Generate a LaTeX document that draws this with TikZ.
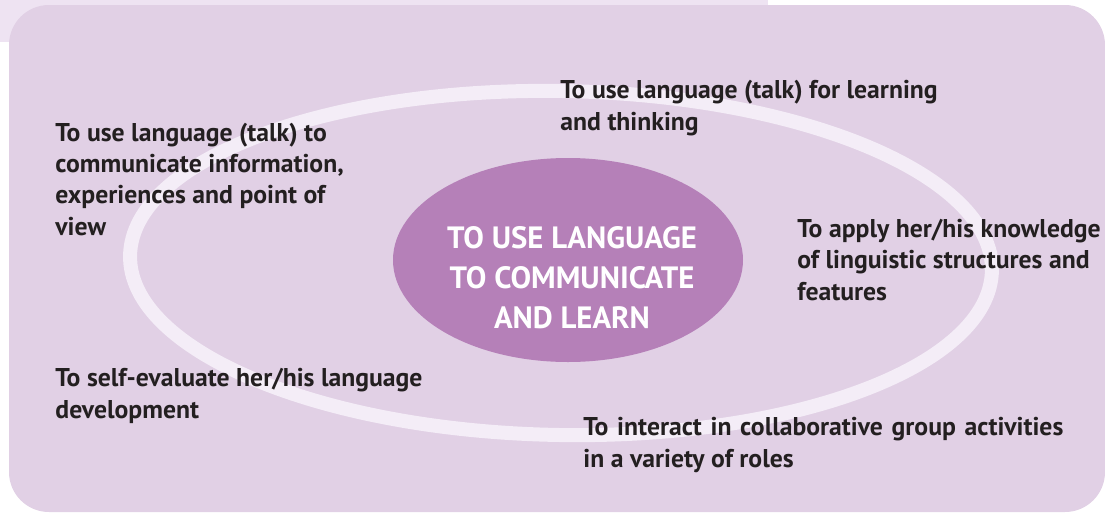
\documentclass[tikz,border=0pt]{standalone}
\usepackage{fontspec}
\setmainfont{PT Sans}
\usetikzlibrary{shapes.geometric}
\definecolor{panel}{HTML}{E1D0E5}
\definecolor{tabcol}{HTML}{EEE3F2}
\definecolor{ringcol}{HTML}{F4EDF7}
\definecolor{corecol}{HTML}{B580B8}
\definecolor{ink}{HTML}{231F20}
\tikzset{
  goal/.style={anchor=base west, align=left, inner sep=0pt, text=ink,
    font=\fontsize{12.85}{15.6}\selectfont\bfseries},
  corebox/.style={ellipse, fill=corecol, inner sep=0pt},
  coretext/.style={inner sep=0pt, text=white, align=center,
    font=\fontsize{15.4}{20}\selectfont\bfseries}
}
\begin{document}
\begin{tikzpicture}[x=0.5pt,y=-0.5pt]
\useasboundingbox (0,0) rectangle (1105,515);
\fill[tabcol] (0,0) rectangle (768,42);
\fill[panel, rounded corners=20pt] (9,5) rectangle (1105,512);
\draw[ringcol, line width=7pt, rotate around={-1:(561,263)}] (561,263) ellipse [x radius=431, y radius=172];
\node[corebox, minimum width=175pt, minimum height=102pt] (core) at (568,260) {};
\node[coretext] (corelabel) at (572,278) {TO USE LANGUAGE\\TO COMMUNICATE\\AND LEARN};
\node[goal] (g1) at (55,235) {To use language (talk) to\\communicate information,\\experiences and point of\\view};
\node[goal] (g2) at (560,130) {To use language (talk) for learning\\and thinking};
\node[goal] (g3) at (797,300) {To apply her/his knowledge\\of linguistic structures and\\features};
\node[goal] (g4) at (55,418) {To self-evaluate her/his language\\development};
\node[goal] (g5) at (583,467) {\makebox[240pt][s]{To interact in collaborative group activities}\\in a variety of roles};
\end{tikzpicture}
\end{document}
